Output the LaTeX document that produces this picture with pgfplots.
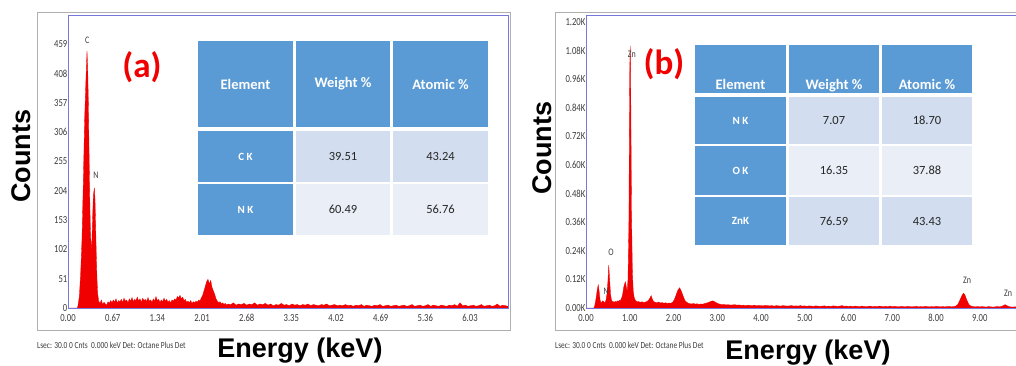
\documentclass[border=0pt]{standalone}
\usepackage{fontspec}
\setmainfont{Carlito}
\newfontfamily\cond[FakeStretch=0.8]{Carlito}
\newfontfamily\arial{Liberation Sans}
\usepackage{pgfplots}
\usepackage{pgfplotstable}
\pgfplotsset{compat=1.18}
\definecolor{axblue}{RGB}{120,120,220}
\definecolor{boxgray}{RGB}{175,175,175}
\definecolor{hdr}{RGB}{91,155,213}
\definecolor{rowA}{RGB}{210,222,239}
\definecolor{rowB}{RGB}{234,239,247}
\definecolor{tick}{RGB}{60,60,60}
\definecolor{spec}{RGB}{240,0,0}

\pgfplotstableread[row sep=\\]{
x y\\
0.00 0\\ 0.14 0\\ 0.15 4\\ 0.17 20\\ 0.19 60\\ 0.21 120\\ 0.23 220\\ 0.25 330\\ 0.27 400\\ 0.285 447\\
0.295 420\\ 0.305 360\\ 0.315 280\\ 0.325 200\\ 0.335 140\\ 0.345 110\\ 0.35 100\\ 0.36 120\\ 0.37 160\\ 0.38 195\\
0.395 209\\ 0.405 190\\ 0.415 140\\ 0.425 90\\ 0.435 50\\ 0.445 25\\ 0.46 12\\ 0.48 8\\ 0.50 14\\ 0.52 6\\
0.54 10\\ 0.56 7\\ 0.58 5\\ 0.60 11\\ 0.62 8\\ 0.64 13\\ 0.66 9\\ 0.68 14\\ 0.70 10\\ 0.72 16\\
0.74 9\\ 0.76 13\\ 0.78 11\\ 0.80 15\\ 0.82 10\\ 0.84 17\\ 0.86 12\\ 0.88 14\\ 0.90 9\\ 0.92 16\\
0.94 12\\ 0.96 18\\ 0.98 11\\ 1.00 15\\ 1.02 13\\ 1.04 19\\ 1.06 12\\ 1.08 16\\ 1.10 10\\ 1.12 17\\
1.14 13\\ 1.16 15\\ 1.18 11\\ 1.20 18\\ 1.22 12\\ 1.24 14\\ 1.26 10\\ 1.28 16\\ 1.30 12\\ 1.32 20\\
1.34 13\\ 1.36 15\\ 1.38 10\\ 1.40 14\\ 1.42 11\\ 1.44 17\\ 1.46 12\\ 1.48 15\\ 1.50 10\\ 1.52 13\\
1.54 9\\ 1.56 14\\ 1.58 12\\ 1.60 16\\ 1.62 14\\ 1.64 20\\ 1.66 18\\ 1.68 22\\ 1.70 16\\ 1.72 19\\
1.74 13\\ 1.76 15\\ 1.78 10\\ 1.80 12\\ 1.82 9\\ 1.84 13\\ 1.86 8\\ 1.88 11\\ 1.90 9\\ 1.92 12\\
1.94 10\\ 1.96 14\\ 1.98 12\\ 2.00 18\\ 2.02 22\\ 2.04 30\\ 2.06 38\\ 2.08 46\\ 2.10 50\\ 2.12 42\\
2.14 48\\ 2.16 36\\ 2.18 30\\ 2.20 24\\ 2.22 16\\ 2.24 12\\ 2.26 9\\ 2.28 11\\ 2.30 7\\ 2.32 9\\
2.34 6\\ 2.36 8\\ 2.38 5\\ 2.40 7\\ 2.44 6\\ 2.48 9\\ 2.52 5\\ 2.56 7\\ 2.60 6\\ 2.64 8\\
2.68 5\\ 2.72 7\\ 2.76 6\\ 2.80 9\\ 2.84 5\\ 2.88 7\\ 2.92 6\\ 2.96 8\\ 3.00 5\\ 3.04 7\\
3.08 4\\ 3.12 6\\ 3.16 5\\ 3.20 8\\ 3.24 5\\ 3.28 6\\ 3.32 4\\ 3.36 7\\ 3.40 5\\ 3.44 6\\
3.48 4\\ 3.52 6\\ 3.56 5\\ 3.60 7\\ 3.64 4\\ 3.68 6\\ 3.72 5\\ 3.76 4\\ 3.80 6\\ 3.84 5\\
3.88 7\\ 3.92 4\\ 3.96 5\\ 4.00 6\\ 4.04 4\\ 4.08 5\\ 4.12 4\\ 4.16 6\\ 4.20 4\\ 4.24 5\\
4.28 3\\ 4.32 5\\ 4.36 4\\ 4.40 6\\ 4.44 3\\ 4.48 5\\ 4.52 4\\ 4.56 3\\ 4.60 5\\ 4.64 4\\
4.68 6\\ 4.72 3\\ 4.76 4\\ 4.80 5\\ 4.84 3\\ 4.88 4\\ 4.92 5\\ 4.96 3\\ 5.00 4\\ 5.04 5\\
5.08 3\\ 5.12 4\\ 5.16 6\\ 5.20 3\\ 5.24 4\\ 5.28 5\\ 5.32 3\\ 5.36 4\\ 5.40 6\\ 5.44 3\\
5.48 5\\ 5.52 4\\ 5.56 3\\ 5.60 5\\ 5.64 4\\ 5.68 3\\ 5.72 5\\ 5.76 4\\ 5.80 6\\ 5.84 3\\
5.88 9\\ 5.92 4\\ 5.96 5\\ 6.00 3\\ 6.04 4\\ 6.08 5\\ 6.12 3\\ 6.16 4\\ 6.20 6\\ 6.24 3\\
6.28 4\\ 6.32 5\\ 6.36 3\\ 6.40 4\\ 6.44 7\\ 6.48 3\\ 6.52 5\\ 6.56 4\\ 6.60 3\\
}\leftdata

\pgfplotstableread[row sep=\\]{
x y\\
0.00 0\\ 0.18 0\\ 0.20 10\\ 0.23 40\\ 0.26 80\\ 0.28 97\\ 0.30 70\\ 0.32 35\\ 0.34 22\\ 0.36 25\\
0.38 30\\ 0.40 28\\ 0.42 22\\ 0.44 25\\ 0.46 35\\ 0.48 60\\ 0.50 110\\ 0.52 180\\ 0.54 120\\ 0.56 60\\
0.58 35\\ 0.60 28\\ 0.62 25\\ 0.64 27\\ 0.66 24\\ 0.68 28\\ 0.70 25\\ 0.72 30\\ 0.74 27\\ 0.76 32\\
0.78 30\\ 0.80 36\\ 0.82 45\\ 0.84 60\\ 0.86 85\\ 0.88 100\\ 0.90 110\\ 0.92 90\\ 0.94 70\\ 0.96 120\\
0.98 350\\ 0.99 700\\ 1.00 1000\\ 1.01 1100\\ 1.02 1000\\ 1.03 700\\ 1.04 400\\ 1.06 150\\ 1.08 70\\ 1.10 45\\
1.12 35\\ 1.14 30\\ 1.16 28\\ 1.18 25\\ 1.20 27\\ 1.24 24\\ 1.28 26\\ 1.32 23\\ 1.36 25\\ 1.40 28\\
1.44 35\\ 1.47 45\\ 1.49 52\\ 1.51 40\\ 1.54 28\\ 1.58 24\\ 1.62 22\\ 1.66 25\\ 1.70 21\\ 1.74 23\\
1.78 20\\ 1.82 22\\ 1.86 19\\ 1.90 21\\ 1.94 20\\ 1.98 24\\ 2.02 35\\ 2.06 55\\ 2.10 75\\ 2.14 85\\
2.18 70\\ 2.22 50\\ 2.26 32\\ 2.30 24\\ 2.34 20\\ 2.38 18\\ 2.42 17\\ 2.46 19\\ 2.50 16\\ 2.54 18\\
2.58 15\\ 2.62 17\\ 2.66 16\\ 2.70 18\\ 2.74 20\\ 2.78 22\\ 2.82 25\\ 2.86 28\\ 2.90 30\\ 2.94 26\\
2.98 22\\ 3.02 18\\ 3.06 16\\ 3.10 14\\ 3.15 15\\ 3.20 13\\ 3.25 14\\ 3.30 12\\ 3.35 13\\ 3.40 14\\
3.45 12\\ 3.50 13\\ 3.55 11\\ 3.60 12\\ 3.65 10\\ 3.70 12\\ 3.75 11\\ 3.80 10\\ 3.85 12\\ 3.90 9\\
3.95 11\\ 4.00 10\\ 4.05 9\\ 4.10 11\\ 4.15 10\\ 4.20 9\\ 4.25 10\\ 4.30 8\\ 4.35 10\\ 4.40 9\\
4.45 8\\ 4.50 10\\ 4.55 9\\ 4.60 8\\ 4.65 9\\ 4.70 10\\ 4.75 8\\ 4.80 9\\ 4.85 8\\ 4.90 10\\
4.95 8\\ 5.00 9\\ 5.05 7\\ 5.10 9\\ 5.15 8\\ 5.20 7\\ 5.25 9\\ 5.30 8\\ 5.35 7\\ 5.40 8\\
5.45 9\\ 5.50 7\\ 5.55 8\\ 5.60 7\\ 5.65 9\\ 5.70 8\\ 5.75 7\\ 5.80 8\\ 5.85 10\\ 5.90 7\\
5.95 8\\ 6.00 7\\ 6.05 8\\ 6.10 6\\ 6.15 8\\ 6.20 7\\ 6.25 6\\ 6.30 8\\ 6.35 7\\ 6.40 6\\
6.45 7\\ 6.50 8\\ 6.55 6\\ 6.60 7\\ 6.65 6\\ 6.70 8\\ 6.75 7\\ 6.80 6\\ 6.85 7\\ 6.90 6\\
6.95 8\\ 7.00 6\\ 7.05 7\\ 7.10 6\\ 7.15 5\\ 7.20 7\\ 7.25 6\\ 7.30 5\\ 7.35 7\\ 7.40 6\\
7.45 5\\ 7.50 6\\ 7.55 7\\ 7.60 5\\ 7.65 6\\ 7.70 5\\ 7.75 7\\ 7.80 6\\ 7.85 5\\ 7.90 6\\
7.95 5\\ 8.00 7\\ 8.05 6\\ 8.10 5\\ 8.15 6\\ 8.20 5\\ 8.25 6\\ 8.30 7\\ 8.35 5\\ 8.40 6\\
8.45 8\\ 8.50 15\\ 8.55 35\\ 8.60 55\\ 8.63 62\\ 8.66 55\\ 8.70 35\\ 8.75 15\\ 8.80 8\\ 8.85 6\\
8.90 5\\ 8.95 6\\ 9.00 5\\ 9.05 6\\ 9.10 5\\ 9.15 4\\ 9.20 6\\ 9.25 5\\ 9.30 4\\ 9.35 5\\
9.40 6\\ 9.45 5\\ 9.50 7\\ 9.55 11\\ 9.58 14\\ 9.62 10\\ 9.66 6\\ 9.70 5\\ 9.75 4\\ 9.80 5\\
9.85 4\\ 9.90 5\\ 9.95 4\\ 10.00 4\\
}\rightdata

\pgfplotsset{
  eds/.style={
    scale only axis, anchor=south west, height=293pt,
    ymin=0, axis line style={axblue, line width=0.8pt},
    major tick length=0pt, axis on top=true,
    tick label style={font=\cond\fontsize{10.8}{11}\selectfont, text=tick},
    yticklabel style={anchor=east, inner sep=0.5pt},
    xticklabel style={anchor=north, inner sep=0pt, yshift=-6pt},
  },
}
\tikzset{peak/.style={font=\cond\fontsize{10}{10}\selectfont, text=tick}}

\begin{document}
\begin{tikzpicture}[x=1pt,y=1pt]
\clip (0,0) rectangle (1016,365);
% outer gray frames
\draw[boxgray, line width=0.8pt] (37,353) rectangle (510,35);
\draw[boxgray, line width=0.8pt] (555,353) rectangle (1040,35);

\begin{axis}[eds, at={(68pt,57pt)}, width=440pt, xmin=0, xmax=6.6, ymax=510,
  xtick={0,0.67,1.34,2.01,2.68,3.35,4.02,4.69,5.36,6.03},
  xticklabels={0.00,0.67,1.34,2.01,2.68,3.35,4.02,4.69,5.36,6.03},
  ytick={0,51,102,153,204,255,306,357,408,459},
  yticklabels={0,51,102,153,204,255,306,357,408,459}]
\addplot[draw=spec, fill=spec, line width=0.3pt] table[x=x,y=y]{\leftdata} \closedcycle;
\node[peak] at (axis cs:0.29,466) {C};
\node[peak] at (axis cs:0.42,231) {N};
\end{axis}

\begin{axis}[eds, at={(586pt,57pt)}, width=437.5pt, xmin=0, xmax=10, ymax=1230,
  xtick={0,1,2,3,4,5,6,7,8,9},
  xticklabels={0.00,1.00,2.00,3.00,4.00,5.00,6.00,7.00,8.00,9.00},
  ytick={0,120,240,360,480,600,720,840,960,1080,1200},
  yticklabels={0.00K,0.12K,0.24K,0.36K,0.48K,0.60K,0.72K,0.84K,0.96K,1.08K,1.20K}]
\addplot[draw=spec, fill=spec, line width=0.3pt] table[x=x,y=y]{\rightdata} \closedcycle;
\node[peak] at (axis cs:1.05,1063) {Zn};
\node[peak] at (axis cs:0.57,235) {O};
\node[peak] at (axis cs:0.46,71) {N};
\node[peak] at (axis cs:8.71,118) {Zn};
\node[peak] at (axis cs:9.65,63) {Zn};
\end{axis}

% left table
\fill[hdr] (198,324) rectangle (293,238);
\fill[hdr] (296,324) rectangle (390,238);
\fill[hdr] (393,324) rectangle (488,238);
\fill[hdr] (198,234) rectangle (293,183);
\fill[rowA] (296,234) rectangle (390,183);
\fill[rowA] (393,234) rectangle (488,183);
\fill[hdr] (198,181) rectangle (293,130);
\fill[rowB] (296,181) rectangle (390,130);
\fill[rowB] (393,181) rectangle (488,130);
\begin{scope}[every node/.style={font=\bfseries\fontsize{14.5}{15}\selectfont, text=white}]
\node at (245.5,281) {Element};
\node at (343,281) {Weight \%};
\node at (440.5,281) {Atomic \%};
\end{scope}
\begin{scope}[every node/.style={font=\bfseries\fontsize{11}{12}\selectfont, text=white}]
\node at (245.5,208.5) {C K};
\node at (245.5,155.5) {N K};
\end{scope}
\begin{scope}[every node/.style={font=\fontsize{12.5}{13}\selectfont, text=black!85}]
\node at (343,208.5) {39.51};
\node at (440.5,208.5) {43.24};
\node at (343,155.5) {60.49};
\node at (440.5,155.5) {56.76};
\end{scope}

% right table
\fill[hdr] (695,320) rectangle (786,272);
\fill[hdr] (789,320) rectangle (879,272);
\fill[hdr] (882,320) rectangle (972,272);
\fill[hdr] (695,268) rectangle (786,221);
\fill[rowA] (789,268) rectangle (879,221);
\fill[rowA] (882,268) rectangle (972,221);
\fill[hdr] (695,219) rectangle (786,170);
\fill[rowB] (789,219) rectangle (879,170);
\fill[rowB] (882,219) rectangle (972,170);
\fill[hdr] (695,168) rectangle (786,120);
\fill[rowA] (789,168) rectangle (879,120);
\fill[rowA] (882,168) rectangle (972,120);
\begin{scope}[every node/.style={font=\bfseries\fontsize{14.5}{15}\selectfont, text=white, anchor=base}]
\node at (740.5,276) {Element};
\node at (834,276) {Weight \%};
\node at (927,276) {Atomic \%};
\end{scope}
\begin{scope}[every node/.style={font=\bfseries\fontsize{11}{12}\selectfont, text=white}]
\node at (740.5,244.5) {N K};
\node at (740.5,194.5) {O K};
\node at (740.5,144) {ZnK};
\end{scope}
\begin{scope}[every node/.style={font=\fontsize{12.5}{13}\selectfont, text=black!85}]
\node at (834,244.5) {7.07};
\node at (927,244.5) {18.70};
\node at (834,194.5) {16.35};
\node at (927,194.5) {37.88};
\node at (834,144) {76.59};
\node at (927,144) {43.43};
\end{scope}

% panel labels
\node[font=\bfseries\fontsize{35}{35}\selectfont, text=spec] at (142,298) {(a)};
\node[font=\bfseries\fontsize{35}{35}\selectfont, text=spec] at (664,301) {(b)};

% axis titles
\node[font=\arial\bfseries\fontsize{27}{27}\selectfont, anchor=base] at (300,8) {Energy (keV)};
\node[font=\arial\bfseries\fontsize{27}{27}\selectfont, anchor=base] at (808,6) {Energy (keV)};
\node[font=\arial\bfseries\fontsize{27}{27}\selectfont, anchor=base, rotate=90] at (31,209) {Counts};
\node[font=\arial\bfseries\fontsize{27}{27}\selectfont, anchor=base, rotate=90] at (551,217) {Counts};

% footers
\node[font=\cond\fontsize{9.3}{10}\selectfont, text=tick, anchor=west, inner sep=0pt] at (37,20) {Lsec: 30.0 0 Cnts \ 0.000 keV Det: Octane Plus Det};
\node[font=\cond\fontsize{9.3}{10}\selectfont, text=tick, anchor=west, inner sep=0pt] at (555,20) {Lsec: 30.0 0 Cnts \ 0.000 keV Det: Octane Plus Det};
\end{tikzpicture}
\end{document}
